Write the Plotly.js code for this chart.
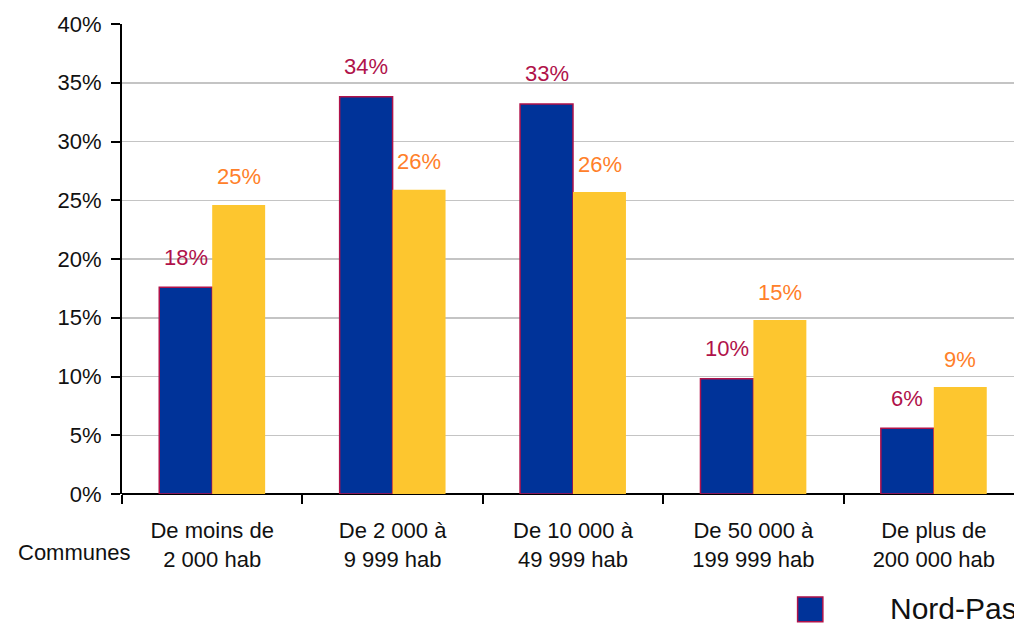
<!DOCTYPE html>
<html>
<head>
<meta charset="utf-8">
<script src="https://cdn.plot.ly/plotly-3.0.1.min.js"></script>
<style>
html,body{margin:0;padding:0;overflow:hidden;background:#fff;}
#chart{width:1040px;height:624px;}
</style>
</head>
<body>
<div id="chart"></div>
<script>
// Data
const categories = ["De moins de<br>2 000 hab", "De 2 000 à<br>9 999 hab", "De 10 000 à<br>49 999 hab", "De 50 000 à<br>199 999 hab", "De plus de<br>200 000 hab"];
const seriesNames = ["Nord-Pas-de-Calais", "France"];
const nordValues = [17.6, 33.8, 33.2, 9.8, 5.6];
const franceValues = [24.6, 25.9, 25.7, 14.8, 9.1];
const yTickVals = [0, 5, 10, 15, 20, 25, 30, 35, 40];
const yTickText = ["0%", "5%", "10%", "15%", "20%", "25%", "30%", "35%", "40%"];
const axisTitleText = "Communes";

const FONT = "Liberation Sans, Arial, sans-serif";
const blue = "#003399";
const blueLine = "#B0124A";
const yellow = "#FDC62F";
const blueLabel = "#B0124A";
const yellowLabel = "#FF8029";

const traces = [
  {type: "bar", name: seriesNames[0], x: categories, y: nordValues,
   marker: {color: blue, line: {color: blueLine, width: 1.5}}, hoverinfo: "none"},
  {type: "bar", name: seriesNames[1], x: categories, y: franceValues,
   marker: {color: yellow, line: {width: 0}}, hoverinfo: "none"}
];

const annotations = [];
categories.forEach((c, i) => {
  annotations.push({x: c, y: nordValues[i], xref: "x", yref: "y", text: Math.round(nordValues[i]) + "%",
    showarrow: false, xshift: -26.5, yshift: 30, yanchor: "middle",
    font: {family: FONT, size: 22, color: blueLabel}});
  annotations.push({x: c, y: franceValues[i], xref: "x", yref: "y", text: Math.round(franceValues[i]) + "%",
    showarrow: false, xshift: 26.5, yshift: 28, yanchor: "middle",
    font: {family: FONT, size: 22, color: yellowLabel}});
});
annotations.push({xref: "paper", yref: "paper", x: -0.053, y: -0.1255, xanchor: "center", yanchor: "middle",
  text: axisTitleText, showarrow: false, font: {family: FONT, size: 22, color: "#111"}});
// legend (drawn manually to match size)
annotations.push({xref: "paper", yref: "paper", x: 0.849, y: -0.2426, xanchor: "left", yanchor: "middle",
  text: seriesNames[0], showarrow: false, font: {family: FONT, size: 30, color: "#111"}});

const layout = {
  width: 1040, height: 624,
  margin: {l: 122, r: 16, t: 24, b: 130},
  paper_bgcolor: "#fff", plot_bgcolor: "#fff",
  barmode: "group", bargap: 0.413, bargroupgap: 0,
  showlegend: false,
  font: {family: FONT, size: 22, color: "#111"},
  xaxis: {
    type: "category", showgrid: false, showline: false, zeroline: false,
    ticks: "outside", tickson: "boundaries", ticklen: 9, tickcolor: "#000", tickwidth: 2,
    tickfont: {family: FONT, size: 22, color: "#111"}, ticklabelstandoff: 21
  },
  yaxis: {
    range: [0, 40], tickvals: yTickVals, ticktext: yTickText,
    showgrid: true, gridcolor: "#c4c4c4", gridwidth: 1.5,
    showline: true, linecolor: "#000", linewidth: 2, zeroline: true, zerolinecolor: "#000", zerolinewidth: 2,
    ticks: "outside", ticklen: 9, tickcolor: "#000", tickwidth: 2,
    tickfont: {family: FONT, size: 22, color: "#111"}, ticklabelstandoff: 5
  },
  shapes: [
    {type: "rect", xref: "paper", yref: "paper", x0: 0.749, x1: 0.777, y0: -0.272, y1: -0.219,
     fillcolor: blue, line: {color: blueLine, width: 1.5}}
  ],
  annotations: annotations
};

Plotly.newPlot("chart", traces, layout, {displayModeBar: false, staticPlot: true});
</script>
</body>
</html>
